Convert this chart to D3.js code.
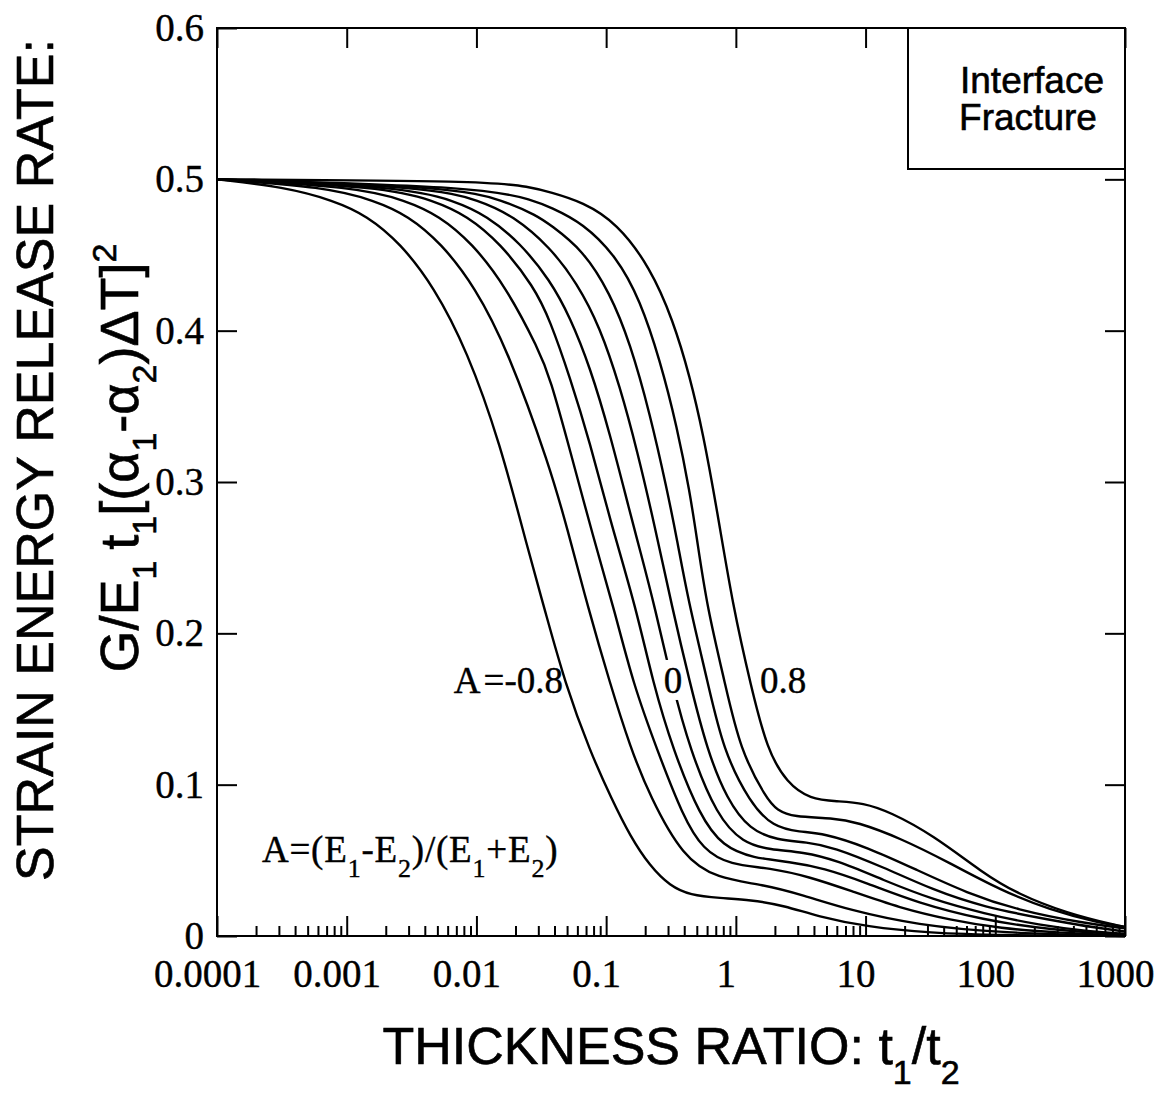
<!DOCTYPE html>
<html>
<head>
<meta charset="utf-8">
<script src="https://cdn.jsdelivr.net/npm/d3@7"></script>
<style>
  body { margin: 0; background: #fff; }
  .serif { font-family: "Liberation Serif", "Times New Roman", serif; stroke: #000; stroke-width: 0.4px; }
  .sans { font-family: "Liberation Sans", Arial, Helvetica, sans-serif; stroke: #000; stroke-width: 0.6px; }
</style>
</head>
<body>
<svg id="chart"></svg>
<script>
// values: [thickness ratio t1/t2, G/E1 t1 [(a1-a2)dT]^2]
const aValues = [-0.8, -0.6, -0.4, -0.2, 0, 0.2, 0.4, 0.6, 0.8];

const curveM08 = [[1e-4,.5],[3.28e-4,.495],[7.98e-4,.486],[1.43e-3,.476],[2.58e-3,.458],[4.71e-3,.429],
  [8.46e-3,.387],[1.52e-2,.326],[2.5e-2,.255],[3.38e-2,.215],[4.82e-2,.167],[7.51e-2,.122],[0.111,.09],
  [0.153,.066],[0.218,.046],[0.311,.033],[0.443,.027],[0.755,.025],[1.285,.024],[2.39,.020],[4.23,.013],
  [10.3,.006],[31.4,.002],[109,.0005],[1000,0]];
const curveM06 = [[1e-4,.5],[6.8e-4,.495],[1.65e-3,.486],[2.97e-3,.476],[5.33e-3,.458],[9.75e-3,.429],
  [1.75e-2,.387],[3.69e-2,.31],[4.99e-2,.27],[7.25e-2,.217],[0.107,.167],[0.153,.125],
  [0.218,.092],[0.391,.052],[0.716,.038],[1.62,.034],[3.30,.027],[7.59,.017],[24.9,.0073],[109,.002],[1000,0]];
const curveM04 = [[1e-4,.5],[1.18e-3,.495],[2.87e-3,.486],[5.15e-3,.476],[9.24e-3,.458],[1.69e-2,.429],
  [3.04e-2,.387],[3.69e-2,.369],[5.27e-2,.321],[7.92e-2,.264],[0.117,.214],[0.161,.167],[0.247,.123],
  [0.391,.079],[0.558,.057],[0.902,.047],[1.834,.045],[3.73,.039],[7.59,.030],[18.4,.0185],[44.8,.0106],
  [109,.005],[316,.002],[1000,.0005]];
const curveM02 = [[1e-4,.5],[1.94e-3,.495],[4.71e-3,.486],[8.46e-3,.476],[1.52e-2,.458],[2.78e-2,.429],
  [3.69e-2,.407],[5.27e-2,.369],[7.51e-2,.326],[0.107,.275],[0.170,.217],[0.230,.167],
  [0.328,.123],[0.529,.079],[0.796,.059],[1.356,.0515],[2.616,.049],[4.70,.045],[10.26,.035],[24.9,.022],
  [80.4,.0106],[264,.004],[1000,.001]];
const curve0 = [[1e-4,.5],[2.77e-3,.495],[6.72e-3,.486],[1.206e-2,.476],[2.17e-2,.458],[3.69e-2,.4335],
  [5.27e-2,.409],[7.51e-2,.376],[0.107,.332],[0.153,.2795],[0.1824,.255],[0.238,.217],[0.322,.167],
  [0.443,.123],[0.716,.079],[1.135,.0615],[1.834,.057],[3.295,.0555],[6.03,.050],[13.63,.037],[33.1,.024],
  [80.4,.015],[221,.007],[537,.003],[1000,.0015]];
const curveP02 = [[1e-4,.5],[4.39e-3,.495],[1.066e-2,.486],[1.91e-2,.476],[3.69e-2,.4553],[5.96e-2,.4315],
  [8.97e-2,.4024],[0.128,.3628],[0.173,.3212],[0.238,.2703],[0.322,.2174],[0.443,.167],[0.5995,.123],
  [0.855,.090],[1.285,.070],[2.076,.0634],[3.537,.062],[5.61,.0588],[13.63,.0456],[33.1,.0304],[80.4,.0192],
  [264,.0106],[642,.005],[1000,.003]];
const curveP04 = [[1e-4,.5],[6.72e-3,.495],[1.63e-2,.486],[2.93e-2,.476],[3.69e-2,.4701],[6.63e-2,.4533],
  [0.107,.4249],[0.153,.3919],[0.218,.345],[0.2946,.295],[0.352,.262],[0.428,.222],[0.61,.167],[0.796,.123],
  [1.285,.088],[1.934,.072],[3.12,.0687],[4.70,.068],[10.26,.0588],[24.9,.0436],[60.5,.0284],[147,.0172],
  [475,.0086],[1000,.005]];
const curveP06 = [[1e-4,.5],[1.144e-2,.495],[2.78e-2,.486],[3.69e-2,.4817],[6.63e-2,.4712],[0.121,.4487],
  [0.1824,.4203],[0.26,.3806],[0.352,.3364],[0.443,.2927],[0.502,.262],[0.5995,.2174],[0.825,.167],
  [1.077,.123],[1.74,.090],[2.076,.0833],[2.758,.0786],[5.61,.078],[8.59,.0753],[18.44,.0648],[44.8,.0482],
  [108.8,.0304],[264,.0172],[642,.0086],[1000,.006]];
const curveP08 = [[1e-4,.5],[1.2e-2,.499],[2.59e-2,.495],[3.69e-2,.4916],[6.63e-2,.485],[0.121,.4712],[0.218,.442],
  [0.328,.407],[0.443,.3694],[0.558,.3324],[0.716,.2815],[0.951,.2174],[1.309,.165],[1.74,.123],[2.48,.101],
  [3.73,.0905],[6.03,.089],[9.56,.088],[15.44,.082],[33.1,.0667],[80.4,.0416],[147,.028],[357,.015],
  [868,.007],[1000,.006]];

const curves = [curveM08, curveM06, curveM04, curveM02, curve0, curveP02, curveP04, curveP06, curveP08];

const xTicks = [1e-4, 1e-3, 0.01, 0.1, 1, 10, 100, 1000];
const xTickLabels = ["0.0001", "0.001", "0.01", "0.1", "1", "10", "100", "1000"];
const yTicks = [0, 0.1, 0.2, 0.3, 0.4, 0.5, 0.6];
const yTickLabels = ["0", "0.1", "0.2", "0.3", "0.4", "0.5", "0.6"];

const margin = { top: 28, left: 217 },
  width = 908,
  height = 908;

const svg = d3.select("#chart").attr("width", 1159).attr("height", 1093);
const g = svg.append("g").attr("transform", "translate(" + margin.left + "," + margin.top + ")");

const x = d3.scaleLog().domain([1e-4, 1000]).range([0, width]);
const y = d3.scaleLinear().domain([0, 0.6]).range([height, 0]);

// minor ticks: the 2..9 multiples of each decade
const minorTicks = x.ticks().filter(d => Math.abs(Math.log10(d) - Math.round(Math.log10(d))) > 1e-6);

function styleAxis(sel) {
  sel.select(".domain").remove();
  sel.selectAll(".tick line").attr("stroke", "#000").attr("stroke-width", 2);
}

// bottom axis: minor + major ticks pointing inward
g.append("g").attr("transform", "translate(0," + height + ")")
  .call(d3.axisBottom(x).tickValues(minorTicks).tickSizeInner(-10).tickSizeOuter(0).tickFormat(""))
  .call(styleAxis);
const bottom = g.append("g").attr("transform", "translate(0," + height + ")")
  .call(d3.axisBottom(x).tickValues(xTicks).tickSizeInner(-20).tickSizeOuter(0)
    .tickFormat((d, i) => xTickLabels[i]))
  .call(styleAxis);
bottom.selectAll("text")
  .attr("class", "serif")
  .attr("y", 51).attr("dy", 0).attr("dx", -10)
  .attr("font-size", 39).attr("fill", "#000");

// top axis: majors only
g.append("g")
  .call(d3.axisTop(x).tickValues(xTicks).tickSizeInner(-20).tickSizeOuter(0).tickFormat(""))
  .call(styleAxis);

// left axis
const left = g.append("g")
  .call(d3.axisLeft(y).tickValues(yTicks).tickSizeInner(-20).tickSizeOuter(0).tickPadding(13)
    .tickFormat((d, i) => yTickLabels[i]))
  .call(styleAxis);
left.selectAll("text").attr("class", "serif").attr("font-size", 39).attr("fill", "#000").attr("dy", "0.32em");

// right axis
g.append("g").attr("transform", "translate(" + width + ",0)")
  .call(d3.axisRight(y).tickValues(yTicks).tickSizeInner(-20).tickSizeOuter(0).tickFormat(""))
  .call(styleAxis);

// frame
g.append("rect").attr("width", width).attr("height", height)
  .attr("fill", "none").attr("stroke", "#000").attr("stroke-width", 2);

// curves
const line = d3.line()
  .x(d => x(d[0]))
  .y(d => y(d[1]))
  .curve(d3.curveBasis);

g.append("g").selectAll("path")
  .data(curves)
  .enter()
  .append("path")
  .attr("d", line)
  .attr("fill", "none")
  .attr("stroke", "#000")
  .attr("stroke-width", 2.4)
  .attr("stroke-linejoin", "round");

// curve labels
const labelY = 0.1606;
g.append("text").attr("class", "serif").attr("font-size", 37)
  .attr("x", x(0.0465)).attr("y", y(labelY)).attr("text-anchor", "end")
  .text("A\u200a=-0.8");

g.append("rect")
  .attr("x", x(0.328) - 10).attr("y", y(labelY) - 33)
  .attr("width", 20).attr("height", 40).attr("fill", "#fff");
g.append("text").attr("class", "serif").attr("font-size", 37)
  .attr("x", x(0.328)).attr("y", y(labelY)).attr("text-anchor", "middle")
  .text("0");

g.append("text").attr("class", "serif").attr("font-size", 37)
  .attr("x", x(1.535)).attr("y", y(labelY))
  .text("0.8");

// definition of A
const def = g.append("text").attr("class", "serif").attr("font-size", 37)
  .attr("letter-spacing", 0.8)
  .attr("x", x(2.22e-4)).attr("y", y(0.0489));
[["A=(E", 0], ["1", 1], ["-E", 0], ["2", 1], [")/(E", 0], ["1", 1], ["+E", 0], ["2", 1], [")", 0]]
  .forEach(([t, sub], i, arr) => {
    const prevSub = i > 0 && arr[i - 1][1];
    const ts = def.append("tspan").text(t);
    if (sub) ts.attr("font-size", 26).attr("dy", 15);
    else if (prevSub) ts.attr("dy", -15);
  });

// legend box
g.append("rect").attr("x", 691).attr("y", 0).attr("width", width - 691).attr("height", 141)
  .attr("fill", "#fff").attr("stroke", "#000").attr("stroke-width", 2);
g.append("text").attr("class", "sans").attr("font-size", 37).attr("text-anchor", "middle")
  .attr("x", 815).attr("y", 65).text("Interface");
g.append("text").attr("class", "sans").attr("font-size", 37).attr("text-anchor", "middle")
  .attr("x", 811).attr("y", 102).text("Fracture");

// x title
const xt = svg.append("text").attr("class", "sans").attr("font-size", 52)
  .attr("x", margin.left + width / 2).attr("y", 1064).attr("text-anchor", "middle");
xt.append("tspan").text("THICKNESS RATIO: t");
xt.append("tspan").text("1").attr("font-size", 34).attr("dy", 20);
xt.append("tspan").text("/t").attr("dy", -20);
xt.append("tspan").text("2").attr("font-size", 34).attr("dy", 20);

// y title, two lines
svg.append("text").attr("class", "sans").attr("font-size", 52)
  .attr("transform", "rotate(-90)")
  .attr("x", -460).attr("y", 53).attr("text-anchor", "middle")
  .text("STRAIN ENERGY RELEASE RATE:");

const yt = svg.append("text").attr("class", "sans").attr("font-size", 54)
  .attr("transform", "rotate(-90)")
  .attr("x", -458).attr("y", 138).attr("text-anchor", "middle");
[["G/E", 0], ["1", 1], ["\u2009t", 0], ["1", 1], ["[(\u03b1", 0], ["1", 1], ["-\u03b1", 0], ["2", 1], [")\u0394T]", 0], ["2", 2]]
  .forEach(([t, kind], i, arr) => {
    const prev = i > 0 ? arr[i - 1][1] : 0;
    const ts = yt.append("tspan").text(t);
    let dy = 0;
    if (prev === 1) dy -= 18;
    if (kind === 1) { ts.attr("font-size", 34); dy += 18; }
    if (kind === 2) { ts.attr("font-size", 34); dy -= 22; }
    if (dy) ts.attr("dy", dy);
  });
</script>
</body>
</html>
